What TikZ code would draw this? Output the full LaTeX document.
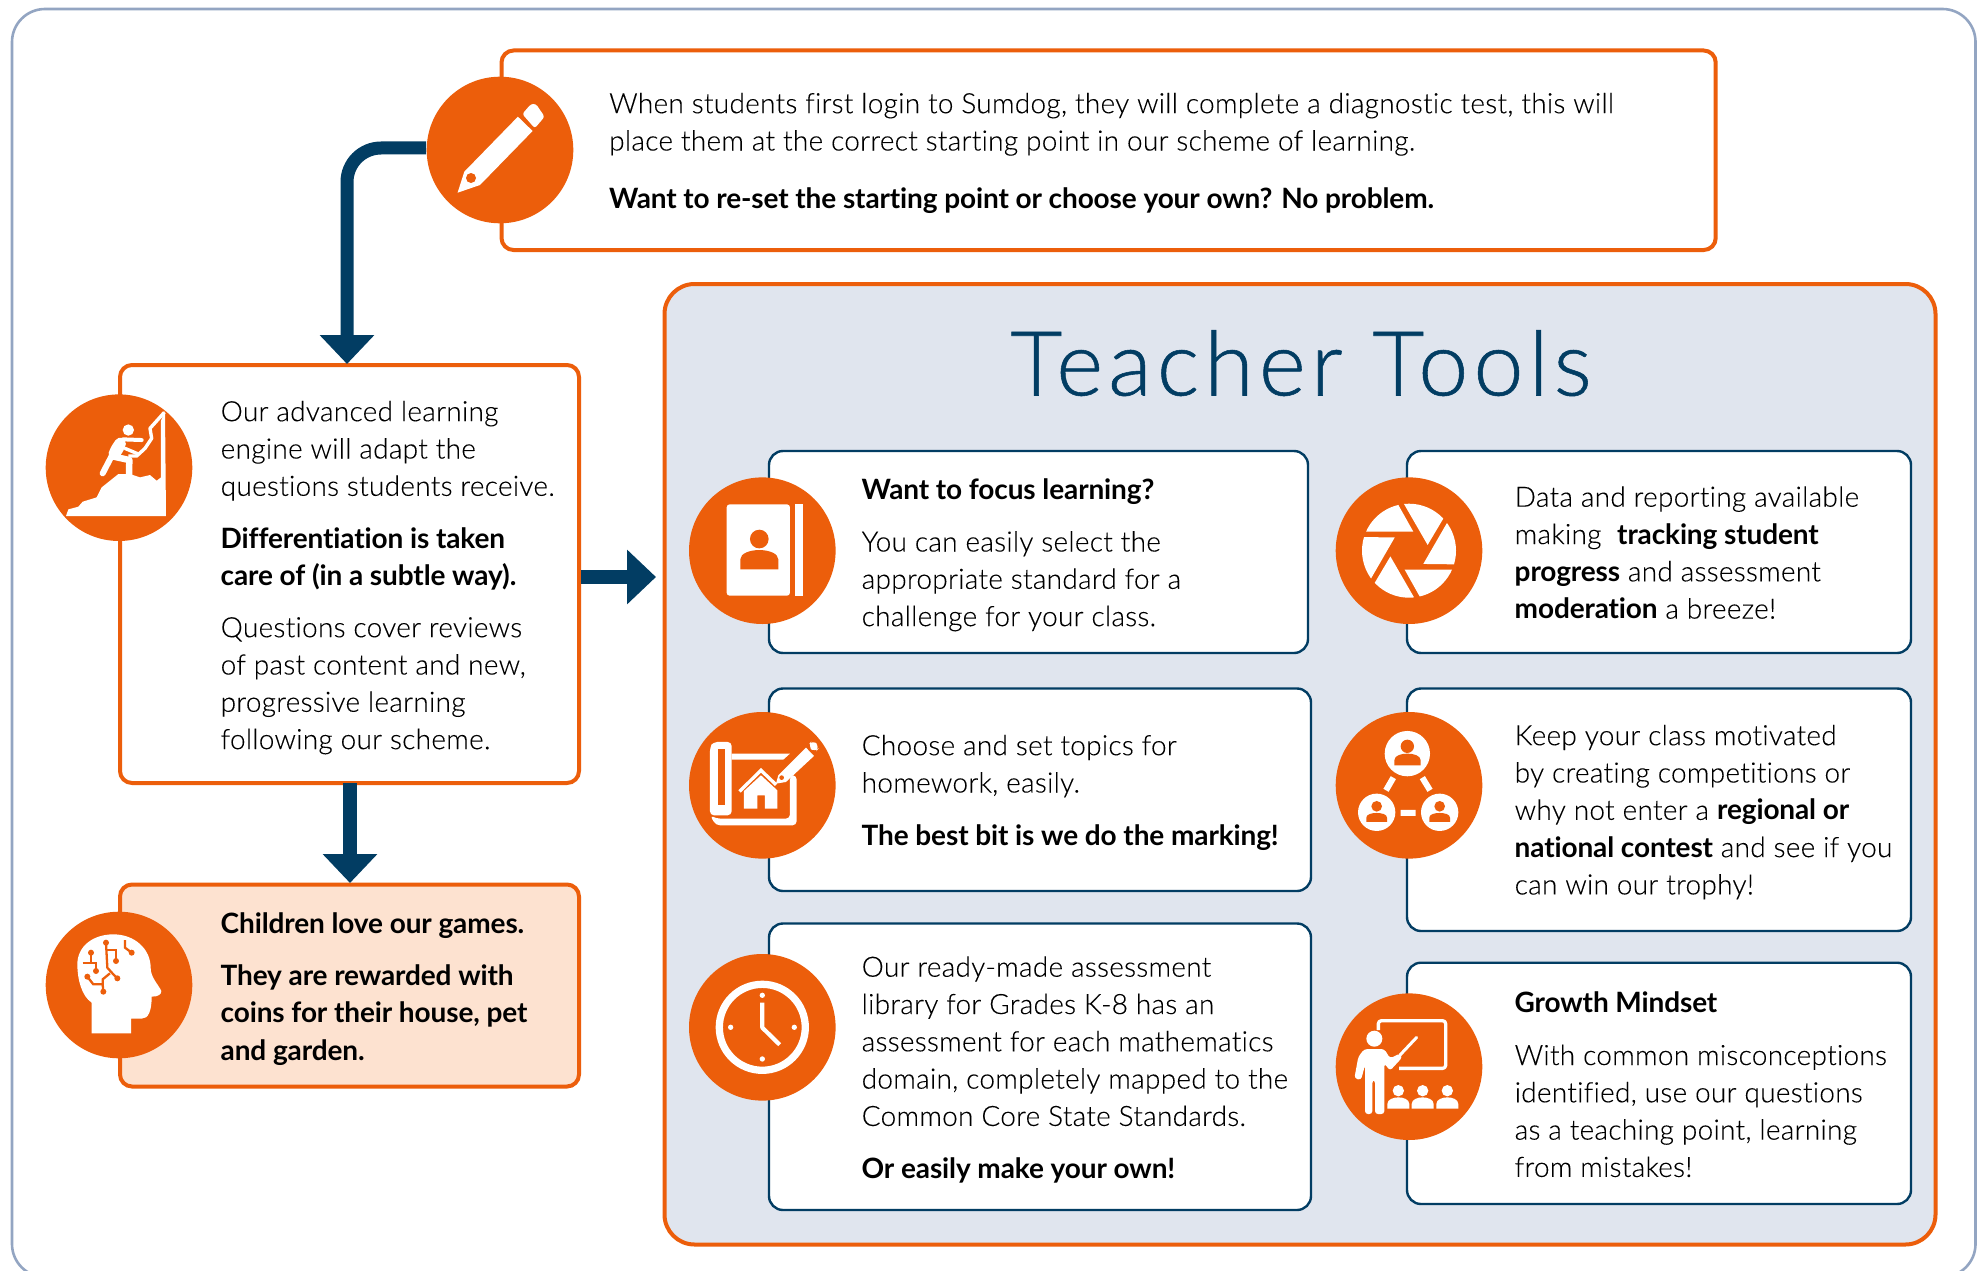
\documentclass[tikz,border=0pt]{standalone}
\usepackage{fontspec}
\usetikzlibrary{arrows.meta}
\setmainfont[UprightFont=* Light,BoldFont=* Bold,Ligatures=NoCommon,UprightFeatures={LetterSpace=1.0,FakeBold=0.12},BoldFeatures={LetterSpace=-0.45}]{Lato}
\newfontfamily\titlefont[UprightFont=* Light,UprightFeatures={LetterSpace=5.6,FakeBold=0.6}]{Lato}
\definecolor{org}{HTML}{EC5E0B}
\definecolor{navy}{HTML}{023D63}
\definecolor{pale}{HTML}{E0E5EE}
\definecolor{peach}{HTML}{FDE2D0}
\definecolor{frame}{HTML}{93A5C2}
\tikzset{
  obox/.style={draw=org,line width=4pt,rounded corners=12pt,fill=white},
  nbox/.style={draw=navy,line width=2.4pt,rounded corners=14pt,fill=white},
  disc/.style={circle,fill=org,minimum size=146.6pt,inner sep=0pt},
  txt/.style={anchor=north west,inner sep=0pt,align=left,text=black,font=\fontsize{28}{37.3}\selectfont},
  flow/.style={draw=navy,line width=14pt,-{Triangle[width=53pt,length=29pt]}},
  ic/.style={x=0.3333pt,y=-0.3333pt},
}
\newcommand{\fs}{\rule{0pt}{22pt}}
\begin{document}
\begin{tikzpicture}[x=1pt,y=-1pt]
\useasboundingbox (0,0) rectangle (1981,1271);
\begin{scope}
\clip (0,0) rectangle (1981,1271);
\draw[frame,line width=2.6pt,fill=white,rounded corners=33pt] (12,9) rectangle (1975.5,1277);
\end{scope}
% boxes
\path[obox] (501.5,50.5) rectangle (1715.7,250);
\path[obox] (120,365) rectangle (579,783);
\path[obox,fill=peach] (120,884.5) rectangle (579,1086.5);
\path[obox,rounded corners=30pt,fill=pale] (664.5,284) rectangle (1935.5,1244.5);
\path[nbox] (769,451) rectangle (1308,653);
\path[nbox] (769,688.5) rectangle (1311,891);
\path[nbox] (769,923.5) rectangle (1311,1210);
\path[nbox] (1407,451) rectangle (1911,653);
\path[nbox] (1407,688.5) rectangle (1911,931);
\path[nbox] (1407,962.7) rectangle (1911,1204);
% discs
\node[disc] (d1) at (500,150) {};
\node[disc] (d2) at (119,467.7) {};
\node[disc] (d3) at (119,985) {};
\node[disc] (d4) at (762.3,550.7) {};
\node[disc] (d5) at (762.3,785.3) {};
\node[disc] (d6) at (762.3,1027.3) {};
\node[disc] (d7) at (1409,550.7) {};
\node[disc] (d8) at (1409,785.3) {};
\node[disc] (d9) at (1409,1066.7) {};
% arrows
\coordinate (a1s) at (426,148);
\coordinate (a1e) at (347,364);
\coordinate (a2s) at (350,783);
\coordinate (a2e) at (350,883);
\coordinate (a3s) at (581,577);
\coordinate (a3e) at (656,577);
\draw[flow,line width=13pt,rounded corners=34pt] (a1s) -- (347,148) -- (a1e);
\draw[flow] (a2s) -- (a2e);
\draw[flow] (a3s) -- (a3e);
% text
\node[txt] (t1) at (609,91) {\fs When students first login to Sumdog, they will complete a diagnostic test, this will\\place them at the correct starting point in our scheme of learning.\\[21pt]\textbf{Want to re-set the starting point or choose your own? No problem.}};
\node[txt] (t2) at (220.5,399) {\fs Our advanced learning\\engine will adapt the\\questions students receive.\\[15pt]\textbf{Differentiation is taken}\\\textbf{care of (in a subtle way).}\\[14.5pt]Questions cover reviews\\of past content and new,\\progressive learning\\following our scheme.};
\node[txt] (t3) at (220.5,911) {\fs\textbf{Children love our games.}\\[15pt]\textbf{They are rewarded with}\\\textbf{coins for their house, pet}\\\textbf{and garden.}};
\node[anchor=base,inner sep=0pt,text=navy,font=\titlefont\fontsize{90}{100}\selectfont] (title) at (1301,395.5) {Teacher Tools};
\node[txt] (t4) at (861.5,477) {\fs\textbf{Want to focus learning?}\\[15pt]You can easily select the\\appropriate standard for a\\challenge for your class.};
\node[txt] (t5) at (861.5,733) {\fs Choose and set topics for\\homework, easily.\\[15.5pt]\textbf{The best bit is we do the marking!}};
\node[txt] (t6) at (861.5,954.5) {\fs Our ready-made assessment\\library for Grades K-8 has an\\assessment for each mathematics\\domain, completely mapped to the\\Common Core State Standards.\\[15pt]\textbf{Or easily make your own!}};
\node[txt] (t7) at (1514.5,484.5) {\fs Data and reporting available\\making \ \textbf{tracking student}\\\textbf{progress} and assessment\\\textbf{moderation} a breeze!};
\node[txt] (t8) at (1514.5,723) {\fs Keep your class motivated\\by creating competitions or\\why not enter a \textbf{regional or}\\\textbf{national contest} and see if you\\can win our trophy!};
\node[txt] (t9) at (1514.5,990.5) {\fs\textbf{Growth Mindset}\\[15pt]With common misconceptions\\identified, use our questions\\as a teaching point, learning\\from mistakes!};
% ICONS
% pencil
\begin{scope}[shift={(d1.center)},x=1pt,y=-1pt]
\fill[white] (-42.4,42.7)--(-35.7,21.7)--(17.9,-33.3)--(32.6,-19)--(-20,35)--cycle;
\fill[org] (-29,28) circle (5);
\fill[white,rounded corners=2.5pt] (22.3,-36)--(31,-46)--(36,-46)--(44.6,-33.3)--(34.8,-21.7)--cycle;
\end{scope}
% climber
\begin{scope}[shift={(d2.center)},ic,shift={(-267,-263)}]
\fill[white] (108,408)--(115,388)--(145,380)--(158,365)--(200,352)--(215,322)--(265,282)--(300,282)--(330,292)--(360,285)--(380,302)--(393,292)--(393,122)--(405,92)--(408,408)--cycle;
\draw[white,line width=3.4pt,line join=round] (403,97)--(378,125)--(360,145)--(365,175)--(345,205)--(320,228)--(295,228);
\fill[white] (295,150) circle (17);
\fill[white,rounded corners=5pt] (265,168)--(290,178)--(285,205)--(262,240)--(232,232)--(240,205)--cycle;
\draw[white,line width=6pt,line cap=round,line join=round] (245,228)--(218,280);
\draw[white,line width=4pt,line cap=round] (280,178)--(335,180);
\draw[white,line width=6.5pt,line cap=round,line join=round] (252,230)--(298,240)--(297,285);
\draw[white,line width=3.4pt,line cap=round] (285,205)--(325,222);
\end{scope}
% brain head
\begin{scope}[shift={(d3.center)},ic,shift={(-267,-257)}]
\fill[white] (185,402)--(185,310) .. controls (155,290) and (142,240) .. (142,195) .. controls (142,140) and (190,105) .. (250,105) .. controls (315,105) and (362,150) .. (362,205) .. controls (362,235) and (385,255) .. (394,275) .. controls (394,285) and (385,292) .. (365,292) .. controls (365,335) and (355,358) .. (335,358) -- (303,358) -- (303,402) -- cycle;
\begin{scope}[org,line width=2.3pt]
\draw (228,130)--(232,205)--(250,225)--(262,237);
\draw (232,152)--(258,152)--(258,185);
\draw (183,160)--(183,190);\draw (158,190)--(198,190)--(198,215);
\draw (172,232)--(190,255)--(218,255)--(220,277);
\draw (218,255)--(218,240)--(240,222);
\draw (285,122)--(285,145)--(305,160);
\foreach \p in {(228,130),(258,185),(183,160),(198,215),(172,232),(220,277),(262,237),(305,160)} \fill \p circle (9);
\end{scope}
\end{scope}
% book
\begin{scope}[shift={(d4.center)},ic,shift={(-247,-242)}]
\fill[white,rounded corners=3pt] (140,103) rectangle (330,377);
\fill[white] (344,103) rectangle (368,377);
\fill[org] (238,207) circle (28);
\fill[org] (181,298)--(181,268) .. controls (181,250) and (210,240) .. (238,240) .. controls (266,240) and (295,250) .. (295,268)--(295,298)--cycle;
\end{scope}
% blueprint
\begin{scope}[shift={(d5.center)},ic,shift={(-247,-255)}]
\fill[white,rounded corners=4pt] (90,345)--(90,140)--(100,125)--(155,125)--(155,345)--cycle;
\fill[org] (113,145) rectangle (135,315);
\fill[white] (155,160)--(330,160)--(310,178)--(155,178)--cycle;
\fill[white,rounded corners=4pt] (108,375)--(90,345)--(110,355)--(330,355)--(330,225)--(350,225)--(350,375)--cycle;
\fill[white] (175,270)--(243,203)--(292,250)--(285,257)--(243,217)--(182,277)--cycle;
\fill[white] (192,325)--(192,272)--(243,225)--(292,270)--(292,325)--(255,325)--(255,285)--(232,285)--(232,325)--cycle;
\fill[white] (288,250)--(295,225)--(378,142)--(402,167)--(318,245)--cycle;
\fill[org] (305,232) circle (7);
\fill[white,rounded corners=6pt] (383,137)--(398,118)--(420,140)--(405,157)--cycle;
\end{scope}
% clock
\begin{scope}[shift={(d6.center)},ic,shift={(-244,-261)}]
\draw[white,line width=7.3pt] (244,261) circle (129);
\foreach \p in {(244,165),(244,356),(149,261),(340,261)} \fill[white] \p circle (8);
\draw[white,line width=4.2pt,line join=round] (244,187)--(244,262)--(296,313);
\end{scope}
% aperture
\begin{scope}[shift={(d7.center)},ic,shift={(-252,-247)}]
\clip (252,247) circle (141);
\foreach \a in {0,60,...,300}
 \fill[white,rotate around={\a:(252,247)}] (265,190)--(60,190)--(60,40)--(182,42)--cycle;
\end{scope}
% network
\begin{scope}[shift={(d8.center)},ic,shift={(-252,-255)}]
\fill[white] (247,160) circle (68) (155,336) circle (56) (344,336) circle (56);
\fill[org] (247,138) circle (20) (155,318) circle (16) (344,318) circle (16);
\fill[org] (208,195)--(208,180) .. controls (208,165) and (230,160) .. (247,160) .. controls (264,160) and (287,165) .. (287,180)--(287,195)--cycle;
\foreach \x in {155,344} \fill[org] (\x-31,365)--(\x-31,352) .. controls (\x-31,342) and (\x-15,338) .. (\x,338) .. controls (\x+15,338) and (\x+31,342) .. (\x+31,352)--(\x+31,365)--cycle;
\draw[white,line width=6pt] (205,232)--(183,270) (292,232)--(315,270) (227,338)--(272,338);
\end{scope}
% teacher
\begin{scope}[shift={(d9.center)},ic,shift={(-252,-260)}]
\draw[white,line width=3.3pt,line join=round,rounded corners=3pt] (160,150)--(160,122)--(362,122)--(362,265)--(222,265);
\draw[white,line width=3pt,line cap=round] (275,172)--(225,225);
\fill[white] (148,176) circle (24);
\fill[white,rounded corners=3pt] (88,295)--(100,230)--(118,207)--(178,207)--(195,235)--(225,220)--(232,232)--(195,272)--(178,250)--(178,402)--(150,402)--(150,300)--(142,300)--(142,402)--(120,402)--(120,255)--(108,300)--cycle;
\foreach \x in {220,293,367} {
 \fill[white] (\x,332) circle (17);
 \fill[white] (\x-33,386)--(\x-33,372) .. controls (\x-33,358) and (\x-15,352) .. (\x,352) .. controls (\x+15,352) and (\x+33,358) .. (\x+33,372)--(\x+33,386)--cycle;
}
\end{scope}
\end{tikzpicture}
\end{document}
